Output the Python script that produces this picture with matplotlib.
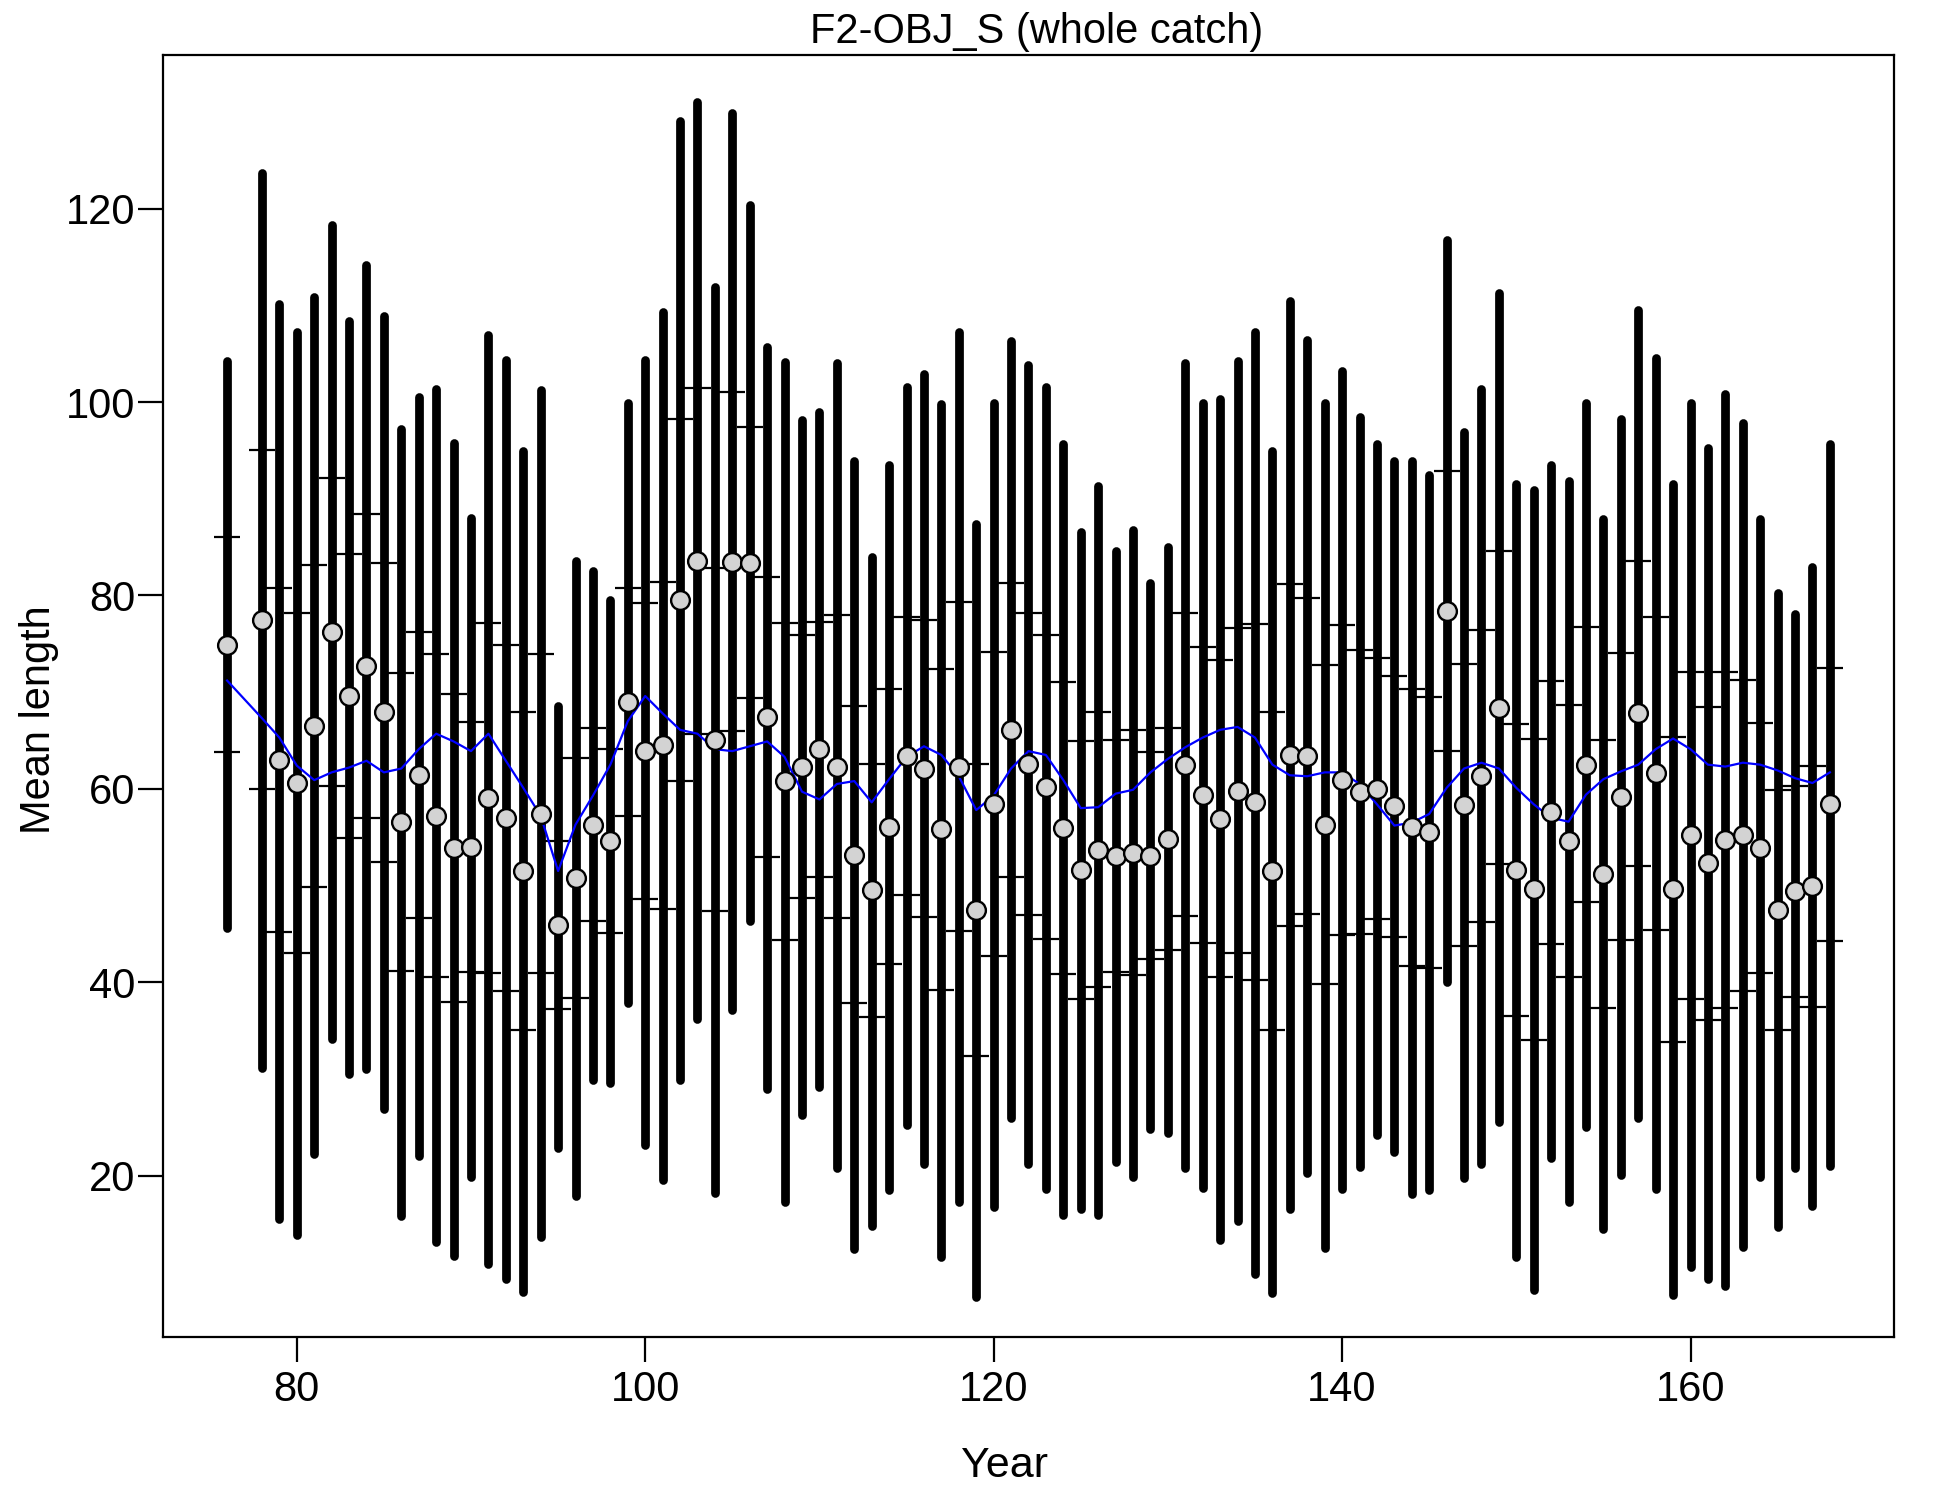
import matplotlib
matplotlib.use("Agg")
import matplotlib.pyplot as plt

plt.rcParams["font.family"] = ["Liberation Sans", "DejaVu Sans"]

# survey years (no data for 77)
years = [76] + list(range(78, 169))

# observed mean length
obs = [74.9, 77.5, 63.0, 60.6, 66.5, 76.2, 69.6, 72.7, 67.9, 56.6,
       61.4, 57.2, 53.9, 54.0, 59.0, 57.0, 51.5, 57.4, 45.9, 50.8,
       56.3, 54.6, 69.0, 63.9, 64.5, 79.5, 83.6, 65.1, 83.5, 83.4,
       67.4, 60.8, 62.3, 64.1, 62.3, 53.2, 49.5, 56.1, 63.4, 62.1,
       55.8, 62.3, 47.5, 58.4, 66.1, 62.6, 60.2, 55.9, 51.6, 53.7,
       53.1, 53.4, 53.1, 54.8, 62.5, 59.4, 56.9, 59.8, 58.6, 51.5,
       63.5, 63.4, 56.3, 60.9, 59.7, 60.0, 58.2, 56.0, 55.5, 78.4,
       58.3, 61.3, 68.4, 51.6, 49.6, 57.6, 54.6, 62.5, 51.2, 59.2,
       67.8, 61.6, 49.6, 55.2, 52.3, 54.7, 55.2, 53.9, 47.5, 49.4,
       49.9, 58.4]

# wide interval (thick bars)
bar_hi = [104.2, 123.7, 110.1, 107.2, 110.9, 118.3, 108.4, 114.2, 108.9, 97.2,
          100.5, 101.4, 95.8, 88.0, 106.9, 104.4, 94.9, 101.2, 68.6, 83.6,
          82.5, 79.5, 99.9, 104.4, 109.3, 129.1, 131.0, 111.9, 129.9, 120.4,
          105.7, 104.1, 98.1, 99.0, 104.0, 93.9, 84.0, 93.5, 101.6, 102.9,
          99.8, 107.2, 87.4, 99.9, 106.3, 103.8, 101.6, 95.7, 86.6, 91.3,
          84.6, 86.8, 81.3, 85.0, 104.0, 99.9, 100.3, 104.2, 107.2, 94.9,
          110.5, 106.4, 99.9, 103.2, 98.5, 95.7, 93.9, 93.9, 92.5, 116.8,
          96.9, 101.4, 111.3, 91.5, 90.9, 93.5, 91.8, 99.9, 87.9, 98.3,
          109.5, 104.6, 91.5, 99.9, 95.3, 100.8, 97.8, 87.9, 80.3, 78.1,
          82.9, 95.7]
bar_lo = [45.6, 31.1, 15.5, 13.9, 22.2, 34.1, 30.5, 31.0, 26.9, 15.8,
          22.0, 13.1, 11.7, 19.9, 10.9, 9.3, 8.0, 13.6, 22.9, 17.9,
          29.9, 29.6, 37.8, 23.2, 19.5, 29.9, 36.2, 18.2, 37.1, 46.3,
          28.9, 17.3, 26.3, 29.2, 20.8, 12.4, 14.8, 18.5, 25.2, 21.2,
          11.6, 17.3, 7.4, 16.7, 25.9, 21.2, 18.6, 15.9, 16.5, 15.9,
          21.4, 19.8, 24.8, 24.4, 20.8, 18.7, 13.3, 15.3, 9.8, 7.8,
          16.5, 20.3, 12.5, 18.6, 20.9, 24.2, 22.4, 18.1, 18.5, 40.0,
          19.7, 21.2, 25.5, 11.6, 8.2, 21.8, 17.3, 25.0, 14.5, 20.1,
          26.0, 18.6, 7.6, 10.5, 9.3, 8.6, 12.6, 19.9, 14.7, 20.8,
          16.9, 21.0]

# narrow interval (short horizontal ticks)
tick_hi = [86.0, 95.0, 80.8, 78.2, 83.2, 92.1, 84.3, 88.4, 83.4, 72.0,
           76.2, 73.9, 69.8, 66.9, 77.1, 74.9, 67.9, 73.9, 54.6, 63.2,
           66.3, 64.1, 80.8, 79.2, 81.4, 98.2, 101.5, 82.8, 101.0, 97.4,
           81.9, 77.2, 75.9, 77.3, 78.0, 68.6, 62.6, 70.3, 77.8, 77.5,
           72.4, 79.3, 62.6, 74.1, 81.3, 78.2, 75.9, 71.0, 64.9, 67.9,
           65.1, 66.1, 63.8, 66.3, 78.2, 74.7, 73.3, 76.6, 77.0, 67.9,
           81.2, 79.7, 72.8, 76.9, 74.4, 73.5, 71.7, 70.3, 69.5, 92.9,
           72.9, 76.4, 84.6, 66.7, 65.2, 71.2, 68.7, 76.7, 65.1, 74.0,
           83.6, 77.8, 65.4, 72.1, 68.5, 72.1, 71.3, 66.8, 59.9, 60.3,
           62.4, 72.5]
tick_lo = [63.8, 60.0, 45.2, 43.0, 49.8, 60.3, 54.9, 57.0, 52.4, 41.2,
           46.6, 40.5, 38.0, 41.1, 40.9, 39.1, 35.1, 40.9, 37.2, 38.4,
           46.3, 45.1, 57.2, 48.6, 47.6, 60.8, 65.7, 47.4, 66.0, 69.4,
           52.9, 44.4, 48.7, 50.9, 46.6, 37.8, 36.4, 41.9, 49.0, 46.7,
           39.2, 45.3, 32.4, 42.7, 50.9, 47.0, 44.5, 40.8, 38.3, 39.5,
           41.1, 40.7, 42.4, 43.3, 46.8, 44.1, 40.5, 43.0, 40.2, 35.1,
           45.8, 47.1, 39.8, 44.9, 45.0, 46.5, 44.7, 41.7, 41.5, 63.9,
           43.7, 46.2, 52.2, 36.5, 34.0, 44.0, 40.5, 48.3, 37.3, 44.4,
           52.0, 45.4, 33.8, 38.3, 36.1, 37.3, 39.1, 41.0, 35.1, 38.5,
           37.4, 44.3]

# expected mean length
expected = [71.2, 67.3, 65.3, 62.4, 60.9, 61.7, 62.2, 62.9, 61.7, 62.1,
            64.1, 65.7, 64.9, 63.9, 65.7, 62.9, 60.1, 57.2, 51.5, 56.3,
            59.3, 62.5, 67.0, 69.6, 67.8, 66.1, 65.7, 64.1, 63.9, 64.4,
            64.9, 63.3, 59.7, 58.9, 60.5, 60.8, 58.6, 61.0, 63.3, 64.4,
            63.5, 61.3, 57.8, 59.3, 62.1, 63.9, 63.5, 60.9, 58.0, 58.1,
            59.5, 59.9, 61.7, 63.1, 64.3, 65.3, 66.1, 66.4, 65.3, 62.5,
            61.4, 61.3, 61.7, 61.7, 60.5, 58.4, 56.2, 56.5, 57.4, 60.1,
            62.1, 62.7, 62.1, 60.1, 58.4, 57.0, 56.6, 59.4, 61.0, 61.8,
            62.5, 64.1, 65.2, 64.1, 62.5, 62.3, 62.7, 62.5, 61.9, 61.1,
            60.6, 61.7]

fig = plt.figure(figsize=(19.5, 15), dpi=100)
ax = fig.add_axes([163 / 1950, 1 - 1337 / 1500, 1731 / 1950, 1282 / 1500])

# thick intervals
ax.vlines(years, bar_lo, bar_hi, colors="black", linewidth=6.3,
          capstyle="round", zorder=2)

# short heads of the narrow interval
half = 0.75
xs0 = [y - half for y in years]
xs1 = [y + half for y in years]
ax.hlines(tick_hi, xs0, xs1, colors="black", linewidth=1.6, zorder=2)
ax.hlines(tick_lo, xs0, xs1, colors="black", linewidth=1.6, zorder=2)

# expected values
ax.plot(years, expected, color="#0000ff", linewidth=1.6, zorder=3)

# observations
ax.plot(years, obs, linestyle="none", marker="o", markersize=13.5,
        markerfacecolor="#d3d3d3", markeredgecolor="black",
        markeredgewidth=1.7, zorder=4)

ax.set_xlim(72.32, 171.68)
ax.set_ylim(3.3, 135.9)
ax.set_xticks([80, 100, 120, 140, 160])
ax.set_yticks([20, 40, 60, 80, 100, 120])
ax.tick_params(axis="both", direction="out", length=18, width=1.6,
               labelsize=30)
ax.tick_params(axis="y", pad=2)
ax.tick_params(axis="x", pad=6)
for s in ax.spines.values():
    s.set_linewidth(1.6)

fig.text(1037 / 1950, 1 - 43 / 1500, "F2-OBJ_S (whole catch)",
         ha="center", va="baseline", fontsize=30)
fig.text(1004 / 1950, 1 - 1477 / 1500, "Year",
         ha="center", va="baseline", fontsize=31)
fig.text(39 / 1950, 1 - 720 / 1500, "Mean length", rotation=90,
         ha="center", va="center", fontsize=30)

fig.savefig("out.png", dpi=100)
